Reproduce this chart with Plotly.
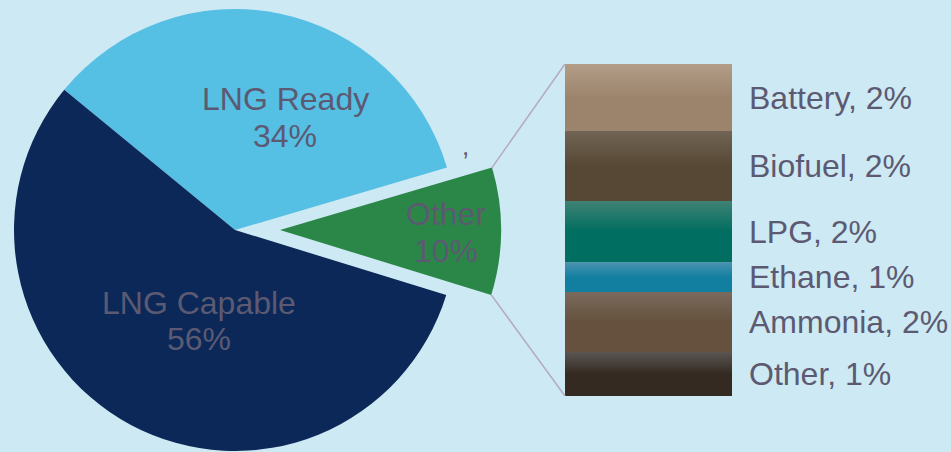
import math
import plotly.graph_objects as go

W, H = 951, 452

# ---- data ----
pie_labels = ["Other", "LNG Ready", "LNG Capable"]
pie_values = [9.3, 34.5, 56.2]
pie_pct_text = ["10%", "34%", "56%"]

sub_labels = ["Battery", "Biofuel", "LPG", "Ethane", "Ammonia", "Other"]
sub_values = [1.88, 1.96, 1.71, 0.84, 1.68, 1.23]
sub_pct_text = ["2%", "2%", "2%", "1%", "2%", "1%"]

# ---- styles ----
BG = "#cde9f3"
TXT = "#5c5a72"
FONT = "Liberation Sans, Arial, sans-serif"
FS = 32
pie_colors = ["#2b8748", "#55bfe4", "#0b2858"]
sub_top = ["#b39d88", "#716454", "#3f8275", "#4a92b0", "#7a6a5d", "#5a5552"]
sub_bot = ["#9c846c", "#574835", "#006e60", "#137fa0", "#65513d", "#342a22"]

def px(x):
    return x / W

def py(y):
    return 1 - y / H

# pie geometry (pixels)
R = 221
CX, CY = 235, 230          # main pie centre
EX = 45                    # explode offset of "Other"
ROT = 73.6                 # rotation (deg, clockwise from 12 o'clock)

fig = go.Figure()

clear = "rgba(0,0,0,0)"
main_colors = [clear, pie_colors[1], pie_colors[2]]
other_colors = [pie_colors[0], clear, clear]
for cols, cx in [(main_colors, CX), (other_colors, CX + EX)]:
    fig.add_trace(go.Pie(
        labels=pie_labels, values=pie_values, sort=False,
        direction="counterclockwise", rotation=ROT,
        marker=dict(colors=cols, line=dict(width=0)),
        textinfo="none", hoverinfo="skip", showlegend=False,
        domain=dict(x=[px(cx - R), px(cx + R)], y=[py(CY + R), py(CY - R)]),
    ))

# stacked bar drawn bottom-up (last item at bottom)
BX0, BX1, BY0, BY1 = 565, 732, 64, 396
total = sum(sub_values)
order = list(range(len(sub_values)))[::-1]
base = 0.0
mids = {}
for i in order:
    lo, hi = base, base + sub_values[i]
    base = hi
    mids[i] = (lo + hi) / 2
    fig.add_trace(go.Scatter(
        x=[-0.5, 0.5, 0.5, -0.5, -0.5], y=[lo, lo, hi, hi, lo],
        mode="lines", line=dict(width=0), fill="toself",
        fillgradient=dict(type="vertical",
                          colorscale=[[0, sub_bot[i]], [0.5, sub_bot[i]], [1, sub_top[i]]]),
        hoverinfo="skip", showlegend=False, xaxis="x", yaxis="y",
    ))

annotations = []
for i in range(len(sub_labels)):
    annotations.append(dict(
        x=0.5, y=mids[i], xref="x", yref="y", xanchor="left", yanchor="middle",
        xshift=15, text=f"{sub_labels[i]}, {sub_pct_text[i]}", showarrow=False,
        font=dict(family=FONT, size=FS, color=TXT),
    ))

# pie labels (name line, pct line) – pixel centres
pie_label_pos = {
    "Other": (446, 214, 251),
    "LNG Ready": (285, 99, 136),
    "LNG Capable": (199, 303, 339),
}
for k, name in enumerate(pie_labels):
    x, y1, y2 = pie_label_pos[name]
    for txt, yy in [(name, y1), (pie_pct_text[k], y2)]:
        annotations.append(dict(
            x=px(x), y=py(yy), xref="paper", yref="paper", xanchor="center",
            yanchor="middle", text=txt, showarrow=False,
            font=dict(family=FONT, size=FS, color=TXT),
        ))
# stray comma
annotations.append(dict(x=px(465), y=py(146), xref="paper", yref="paper",
                        xanchor="center", yanchor="middle", text=",", showarrow=False,
                        font=dict(family=FONT, size=26, color=TXT)))

# connector lines from exploded wedge corners to bar corners
vt = sum(pie_values)
a_top = math.radians(90 - ROT)                       # Other / Ready boundary
a_bot = a_top - 2 * math.pi * pie_values[0] / vt     # Other / Capable boundary
ox = CX + EX
shapes = []
for ang, by in [(a_top, BY0), (a_bot, BY1)]:
    x0 = ox + R * math.cos(ang)
    y0 = CY - R * math.sin(ang)
    shapes.append(dict(type="line", xref="paper", yref="paper",
                       x0=px(x0), y0=py(y0), x1=px(BX0), y1=py(by),
                       line=dict(color="#b4acbc", width=1.5)))

fig.update_layout(
    width=W, height=H, paper_bgcolor=BG, plot_bgcolor=BG,
    margin=dict(l=0, r=0, t=0, b=0, pad=0),
    xaxis=dict(domain=[px(BX0), px(BX1)], range=[-0.5, 0.5], visible=False, fixedrange=True),
    yaxis=dict(domain=[py(BY1), py(BY0)], range=[0, total], visible=False, fixedrange=True),
    annotations=annotations, shapes=shapes, showlegend=False,
)

fig.write_html("out.html", config={"displayModeBar": False},
               post_script="document.body.style.margin='0';document.body.style.background='" + BG + "';")
